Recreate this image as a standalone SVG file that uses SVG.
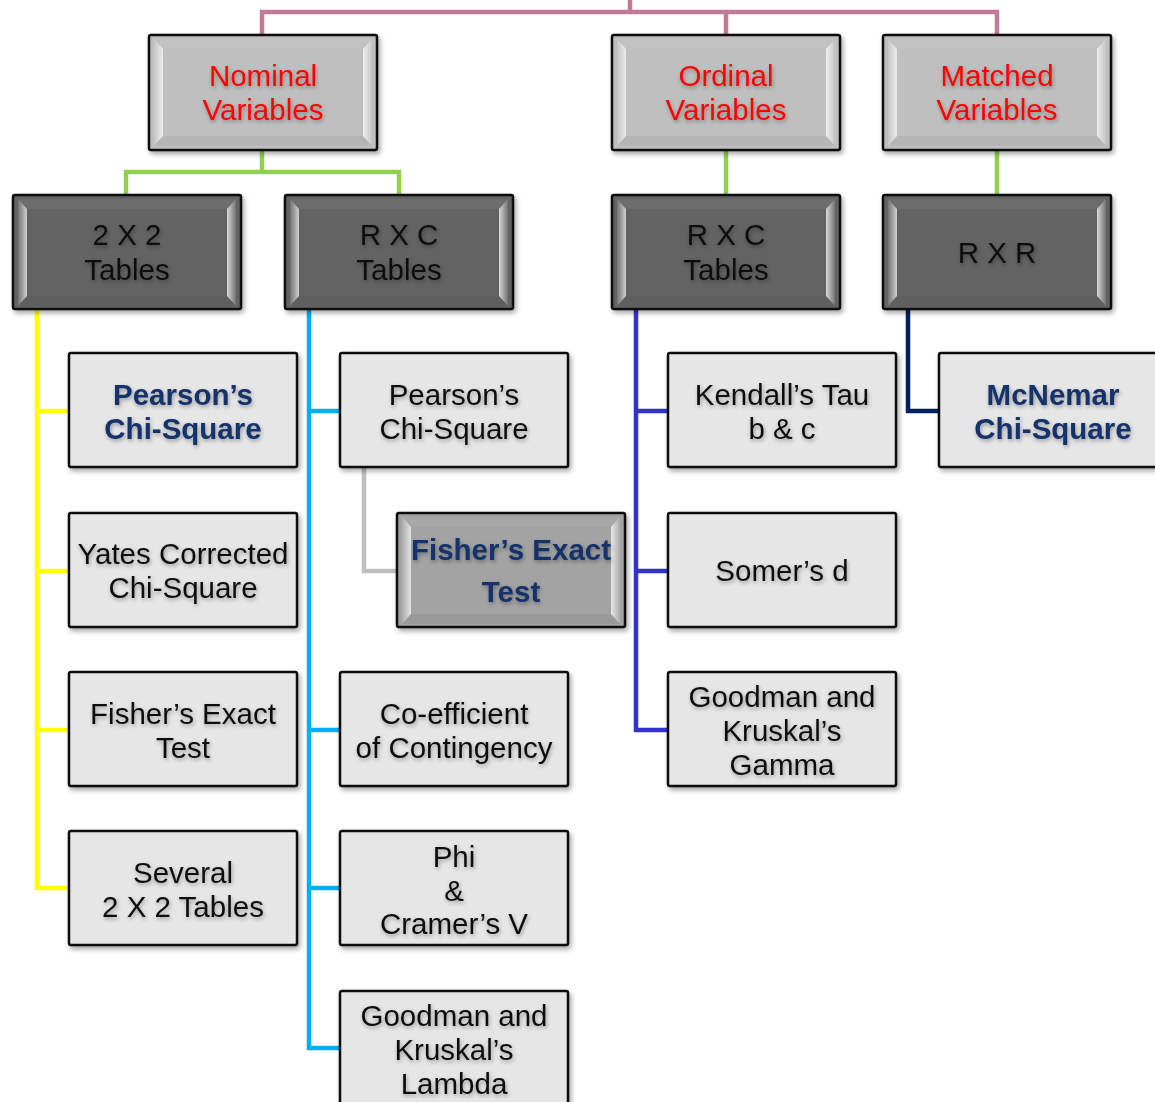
<svg xmlns="http://www.w3.org/2000/svg" width="1155" height="1102" viewBox="0 0 1155 1102">
<style>
.box{stroke:#111;stroke-width:2.5}
.top{fill:#bfbfbf}
.mid{fill:#646464}
.leaf{fill:#e6e6e6}
.fx{fill:#a3a3a3}
.t{font-family:"Liberation Sans",Arial,sans-serif;font-size:29.5px;text-anchor:middle;fill:#111}
.red{fill:#ff0000}
.b{font-weight:bold;fill:#13306b}
.c{fill:none;stroke-width:4.5;stroke-linejoin:miter}
</style>
<defs>
<filter id="sh" x="-10%" y="-10%" width="125%" height="130%">
<feDropShadow dx="2" dy="3" stdDeviation="2.5" flood-color="#000" flood-opacity="0.35"/>
</filter>
<filter id="ts" x="-10%" y="-20%" width="120%" height="150%">
<feGaussianBlur in="SourceAlpha" stdDeviation="2"/>
<feOffset dx="1" dy="2" result="o"/>
<feComponentTransfer><feFuncA type="linear" slope="0.35"/></feComponentTransfer>
<feMerge><feMergeNode/><feMergeNode in="SourceGraphic"/></feMerge>
</filter>
<linearGradient id="lgL" x1="0" y1="0" x2="1" y2="0">
<stop offset="0" stop-color="#fff" stop-opacity="0.1"/>
<stop offset="1" stop-color="#fff" stop-opacity="0.7"/>
</linearGradient>
<linearGradient id="lgR" x1="0" y1="0" x2="1" y2="0">
<stop offset="0" stop-color="#fff" stop-opacity="0.75"/>
<stop offset="1" stop-color="#fff" stop-opacity="0.1"/>
</linearGradient>
<g id="bevel">
<polygon points="5,4 14,14 14,101 5,111" fill="url(#lgL)"/>
<polygon points="223,4 214,14 214,101 223,111" fill="url(#lgR)"/>
<polygon points="5,4 223,4 214,14 14,14" fill="#fff" opacity="0.06"/>
<polygon points="5,111 223,111 214,101 14,101" fill="#000" opacity="0.05"/>
</g>
</defs>
<g id="connectors">
<path class="c" stroke="#c27a98" d="M630,0 V12 M262,35 V12 H997 V35 M726,12 V35"/>
<path class="c" stroke="#92d050" d="M262,150 V172 M126,195 V172 H399 V195 M726,150 V195 M997,150 V195"/>
<path class="c" stroke="#ffff00" d="M37,308 V888 H69 M37,411 H69 M37,571 H69 M37,730 H69"/>
<path class="c" stroke="#00b0f0" d="M309,308 V1048 H340 M309,411 H340 M309,730 H340 M309,888 H340"/>
<path class="c" stroke="#bfbfbf" d="M364,467 V571 H397"/>
<path class="c" stroke="#3333cc" d="M636,308 V730 H668 M636,411 H668 M636,571 H668"/>
<path class="c" stroke="#002060" d="M908,308 V411 H939"/>
</g>
<g id="n-nominal"><g filter="url(#sh)"><rect class="box top" x="149" y="35" width="228" height="115" rx="2"/><use href="#bevel" x="149" y="35"/></g>
<text class="t red" filter="url(#ts)"><tspan x="263" y="86">Nominal</tspan><tspan x="263" y="120">Variables</tspan></text></g>
<g id="n-ordinal"><g filter="url(#sh)"><rect class="box top" x="612" y="35" width="228" height="115" rx="2"/><use href="#bevel" x="612" y="35"/></g>
<text class="t red" filter="url(#ts)"><tspan x="726" y="86">Ordinal</tspan><tspan x="726" y="120">Variables</tspan></text></g>
<g id="n-matched"><g filter="url(#sh)"><rect class="box top" x="883" y="35" width="228" height="115" rx="2"/><use href="#bevel" x="883" y="35"/></g>
<text class="t red" filter="url(#ts)"><tspan x="997" y="86">Matched</tspan><tspan x="997" y="120">Variables</tspan></text></g>

<g id="n-2x2"><g filter="url(#sh)"><rect class="box mid" x="13" y="195" width="228" height="114" rx="2"/><use href="#bevel" x="13" y="195"/></g>
<text class="t" filter="url(#ts)"><tspan x="127" y="245">2 X 2</tspan><tspan x="127" y="280">Tables</tspan></text></g>
<g id="n-rxc1"><g filter="url(#sh)"><rect class="box mid" x="285" y="195" width="228" height="114" rx="2"/><use href="#bevel" x="285" y="195"/></g>
<text class="t" filter="url(#ts)"><tspan x="399" y="245">R X C</tspan><tspan x="399" y="280">Tables</tspan></text></g>
<g id="n-rxc2"><g filter="url(#sh)"><rect class="box mid" x="612" y="195" width="228" height="114" rx="2"/><use href="#bevel" x="612" y="195"/></g>
<text class="t" filter="url(#ts)"><tspan x="726" y="245">R X C</tspan><tspan x="726" y="280">Tables</tspan></text></g>
<g id="n-rxr"><g filter="url(#sh)"><rect class="box mid" x="883" y="195" width="228" height="114" rx="2"/><use href="#bevel" x="883" y="195"/></g>
<text class="t" filter="url(#ts)"><tspan x="997" y="263">R X R</tspan></text></g>

<g id="n-pearson1"><rect class="box leaf" x="69" y="353" width="228" height="114" rx="2" filter="url(#sh)"/>
<text class="t b" filter="url(#ts)"><tspan x="183" y="405">Pearson’s</tspan><tspan x="183" y="439">Chi-Square</tspan></text></g>
<g id="n-yates"><rect class="box leaf" x="69" y="513" width="228" height="114" rx="2" filter="url(#sh)"/>
<text class="t" filter="url(#ts)"><tspan x="183" y="564">Yates Corrected</tspan><tspan x="183" y="598">Chi-Square</tspan></text></g>
<g id="n-fisher1"><rect class="box leaf" x="69" y="672" width="228" height="114" rx="2" filter="url(#sh)"/>
<text class="t" filter="url(#ts)"><tspan x="183" y="724">Fisher’s Exact</tspan><tspan x="183" y="758">Test</tspan></text></g>
<g id="n-several"><rect class="box leaf" x="69" y="831" width="228" height="114" rx="2" filter="url(#sh)"/>
<text class="t" filter="url(#ts)"><tspan x="183" y="883">Several</tspan><tspan x="183" y="917">2 X 2 Tables</tspan></text></g>

<g id="n-pearson2"><rect class="box leaf" x="340" y="353" width="228" height="114" rx="2" filter="url(#sh)"/>
<text class="t" filter="url(#ts)"><tspan x="454" y="405">Pearson’s</tspan><tspan x="454" y="439">Chi-Square</tspan></text></g>
<g id="n-fisher2"><g filter="url(#sh)"><rect class="box fx" x="397" y="513" width="228" height="114" rx="2"/><use href="#bevel" x="397" y="513"/></g>
<text class="t b" filter="url(#ts)"><tspan x="511" y="560">Fisher’s Exact</tspan><tspan x="511" y="602">Test</tspan></text></g>
<g id="n-coef"><rect class="box leaf" x="340" y="672" width="228" height="114" rx="2" filter="url(#sh)"/>
<text class="t" filter="url(#ts)"><tspan x="454" y="724">Co-efficient</tspan><tspan x="454" y="758">of Contingency</tspan></text></g>
<g id="n-phi"><rect class="box leaf" x="340" y="831" width="228" height="114" rx="2" filter="url(#sh)"/>
<text class="t" filter="url(#ts)"><tspan x="454" y="867">Phi</tspan><tspan x="454" y="901">&amp;</tspan><tspan x="454" y="934">Cramer’s V</tspan></text></g>
<g id="n-lambda"><rect class="box leaf" x="340" y="991" width="228" height="114" rx="2" filter="url(#sh)"/>
<text class="t" filter="url(#ts)"><tspan x="454" y="1026">Goodman and</tspan><tspan x="454" y="1060">Kruskal’s</tspan><tspan x="454" y="1094">Lambda</tspan></text></g>

<g id="n-kendall"><rect class="box leaf" x="668" y="353" width="228" height="114" rx="2" filter="url(#sh)"/>
<text class="t" filter="url(#ts)"><tspan x="782" y="405">Kendall’s Tau</tspan><tspan x="782" y="439">b &amp; c</tspan></text></g>
<g id="n-somer"><rect class="box leaf" x="668" y="513" width="228" height="114" rx="2" filter="url(#sh)"/>
<text class="t" filter="url(#ts)"><tspan x="782" y="581">Somer’s d</tspan></text></g>
<g id="n-gamma"><rect class="box leaf" x="668" y="672" width="228" height="114" rx="2" filter="url(#sh)"/>
<text class="t" filter="url(#ts)"><tspan x="782" y="707">Goodman and</tspan><tspan x="782" y="741">Kruskal’s</tspan><tspan x="782" y="775">Gamma</tspan></text></g>

<g id="n-mcnemar"><rect class="box leaf" x="939" y="353" width="228" height="114" rx="2" filter="url(#sh)"/>
<text class="t b" filter="url(#ts)"><tspan x="1053" y="405">McNemar</tspan><tspan x="1053" y="439">Chi-Square</tspan></text></g>
</svg>
